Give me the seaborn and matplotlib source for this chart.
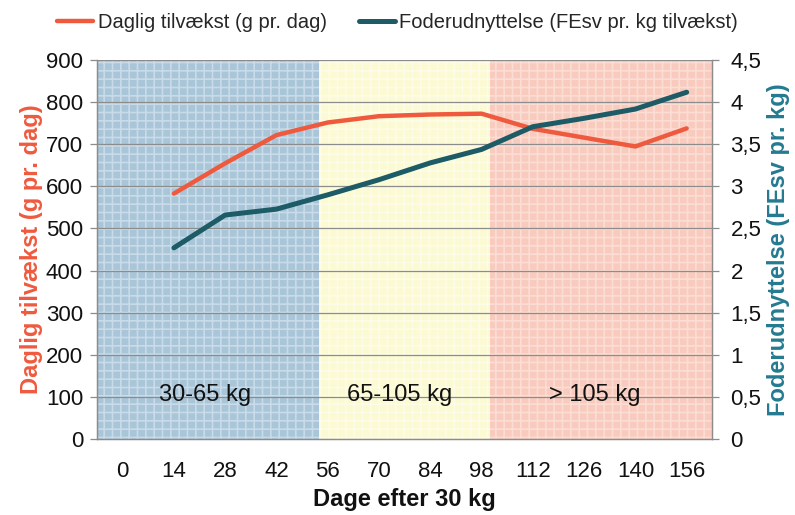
import numpy as np
import pandas as pd
import matplotlib
matplotlib.use("Agg")
import matplotlib.pyplot as plt
import seaborn as sns

days = ["0", "14", "28", "42", "56", "70", "84", "98", "112", "126", "140", "156"]
daglig_tilvaekst = [np.nan, 583, 655, 722, 752, 767, 771, 773, 737, 716, 695, 738]
foderudnyttelse = [np.nan, 2.27, 2.66, 2.73, 2.90, 3.08, 3.28, 3.44, 3.71, 3.81, 3.92, 4.12]
zones = ["30-65 kg", "65-105 kg", "> 105 kg"]

RED = "#EF5A3E"
TEAL = "#1D5B66"
TEAL_LABEL = "#257A90"

sns.set_theme(style="white")
plt.rcParams['font.family'] = ['Liberation Sans', 'DejaVu Sans']
plt.rcParams['hatch.linewidth'] = 1.2

df = pd.DataFrame({"pos": np.arange(len(days)), "dag": days,
                   "tilvaekst": daglig_tilvaekst, "fe": foderudnyttelse})

fig = plt.figure(figsize=(7.95, 5.15), dpi=100)
ax = fig.add_axes([0.122, 0.148, 0.774, 0.735])
ax2 = ax.twinx()

# background zones
zone_edges = [-0.5, 3.83, 7.17, 11.5]
zone_colors = ["#A9C5D8", "#FBFAD2", "#F8CBBE"]
zone_hatch = ["#C9DBE8", "#FDFCE6", "#FBDDD3"]
for i in range(3):
    ax.axvspan(zone_edges[i], zone_edges[i + 1], facecolor=zone_colors[i],
               edgecolor=zone_hatch[i], hatch="++", linewidth=0, zorder=0)

ax.set_ylim(0, 900)
ax.set_yticks(np.arange(0, 901, 100))
ax.set_xlim(-0.5, 11.5)
for y in np.arange(100, 901, 100):
    ax.axhline(y, color="#8C8C8C", lw=0.9, zorder=1)

sns.lineplot(data=df, x="pos", y="tilvaekst", ax=ax, color=RED, lw=3.2,
             zorder=3, label="Daglig tilvækst (g pr. dag)", legend=False)
sns.lineplot(data=df, x="pos", y="fe", ax=ax2, color=TEAL, lw=3.6,
             zorder=3, label="Foderudnyttelse (FEsv pr. kg tilvækst)", legend=False)

ax2.set_ylim(0, 4.5)
ax2.set_yticks(np.arange(0, 4.51, 0.5))
ax2.set_yticklabels([f"{v:g}".replace(".", ",") for v in np.arange(0, 4.51, 0.5)])

ax.set_xticks(np.arange(len(days)))
ax.set_xticklabels(days)
ax.set_xticks(np.arange(-0.5, 11.6, 1), minor=True)
ax.tick_params(axis="x", which="major", length=0, pad=16, labelsize=16)
ax.tick_params(axis="x", which="minor", length=6, color="#8C8C8C", width=0.9)
ax.tick_params(axis="y", length=5, color="#8C8C8C", width=0.9, labelsize=16, pad=5)
ax2.tick_params(axis="y", length=5, color="#8C8C8C", width=0.9, labelsize=16, pad=8)
ax.tick_params(axis="both", colors="#8C8C8C", labelcolor="#111111", which="both")
ax2.tick_params(axis="y", colors="#8C8C8C", labelcolor="#111111")

for a in (ax, ax2):
    a.spines["top"].set_visible(False)
    for s in ["left", "right", "bottom"]:
        a.spines[s].set_color("#8C8C8C")
        a.spines[s].set_linewidth(0.9)

ax.set_xlabel("Dage efter 30 kg", fontsize=17, fontweight="bold", labelpad=4, color="#111111")
ax.set_ylabel("Daglig tilvækst (g pr. dag)", fontsize=17, fontweight="bold", color=RED, labelpad=2)
ax2.set_ylabel("Foderudnyttelse (FEsv pr. kg)", fontsize=17, fontweight="bold", color=TEAL_LABEL, labelpad=4)

zone_x = [1.61, 5.41, 9.2]
for x, t in zip(zone_x, zones):
    ax.text(x, 103, t, ha="center", va="center", fontsize=17, color="#111111", zorder=4)

h1, l1 = ax.get_legend_handles_labels()
h2, l2 = ax2.get_legend_handles_labels()
fig.legend(h1 + h2, l1 + l2, loc="center", bbox_to_anchor=(0.5, 0.957), ncol=2,
           frameon=False, fontsize=14.5, handlelength=1.8, handletextpad=0.2,
           columnspacing=1.6)

fig.savefig("out.png", dpi=100)
